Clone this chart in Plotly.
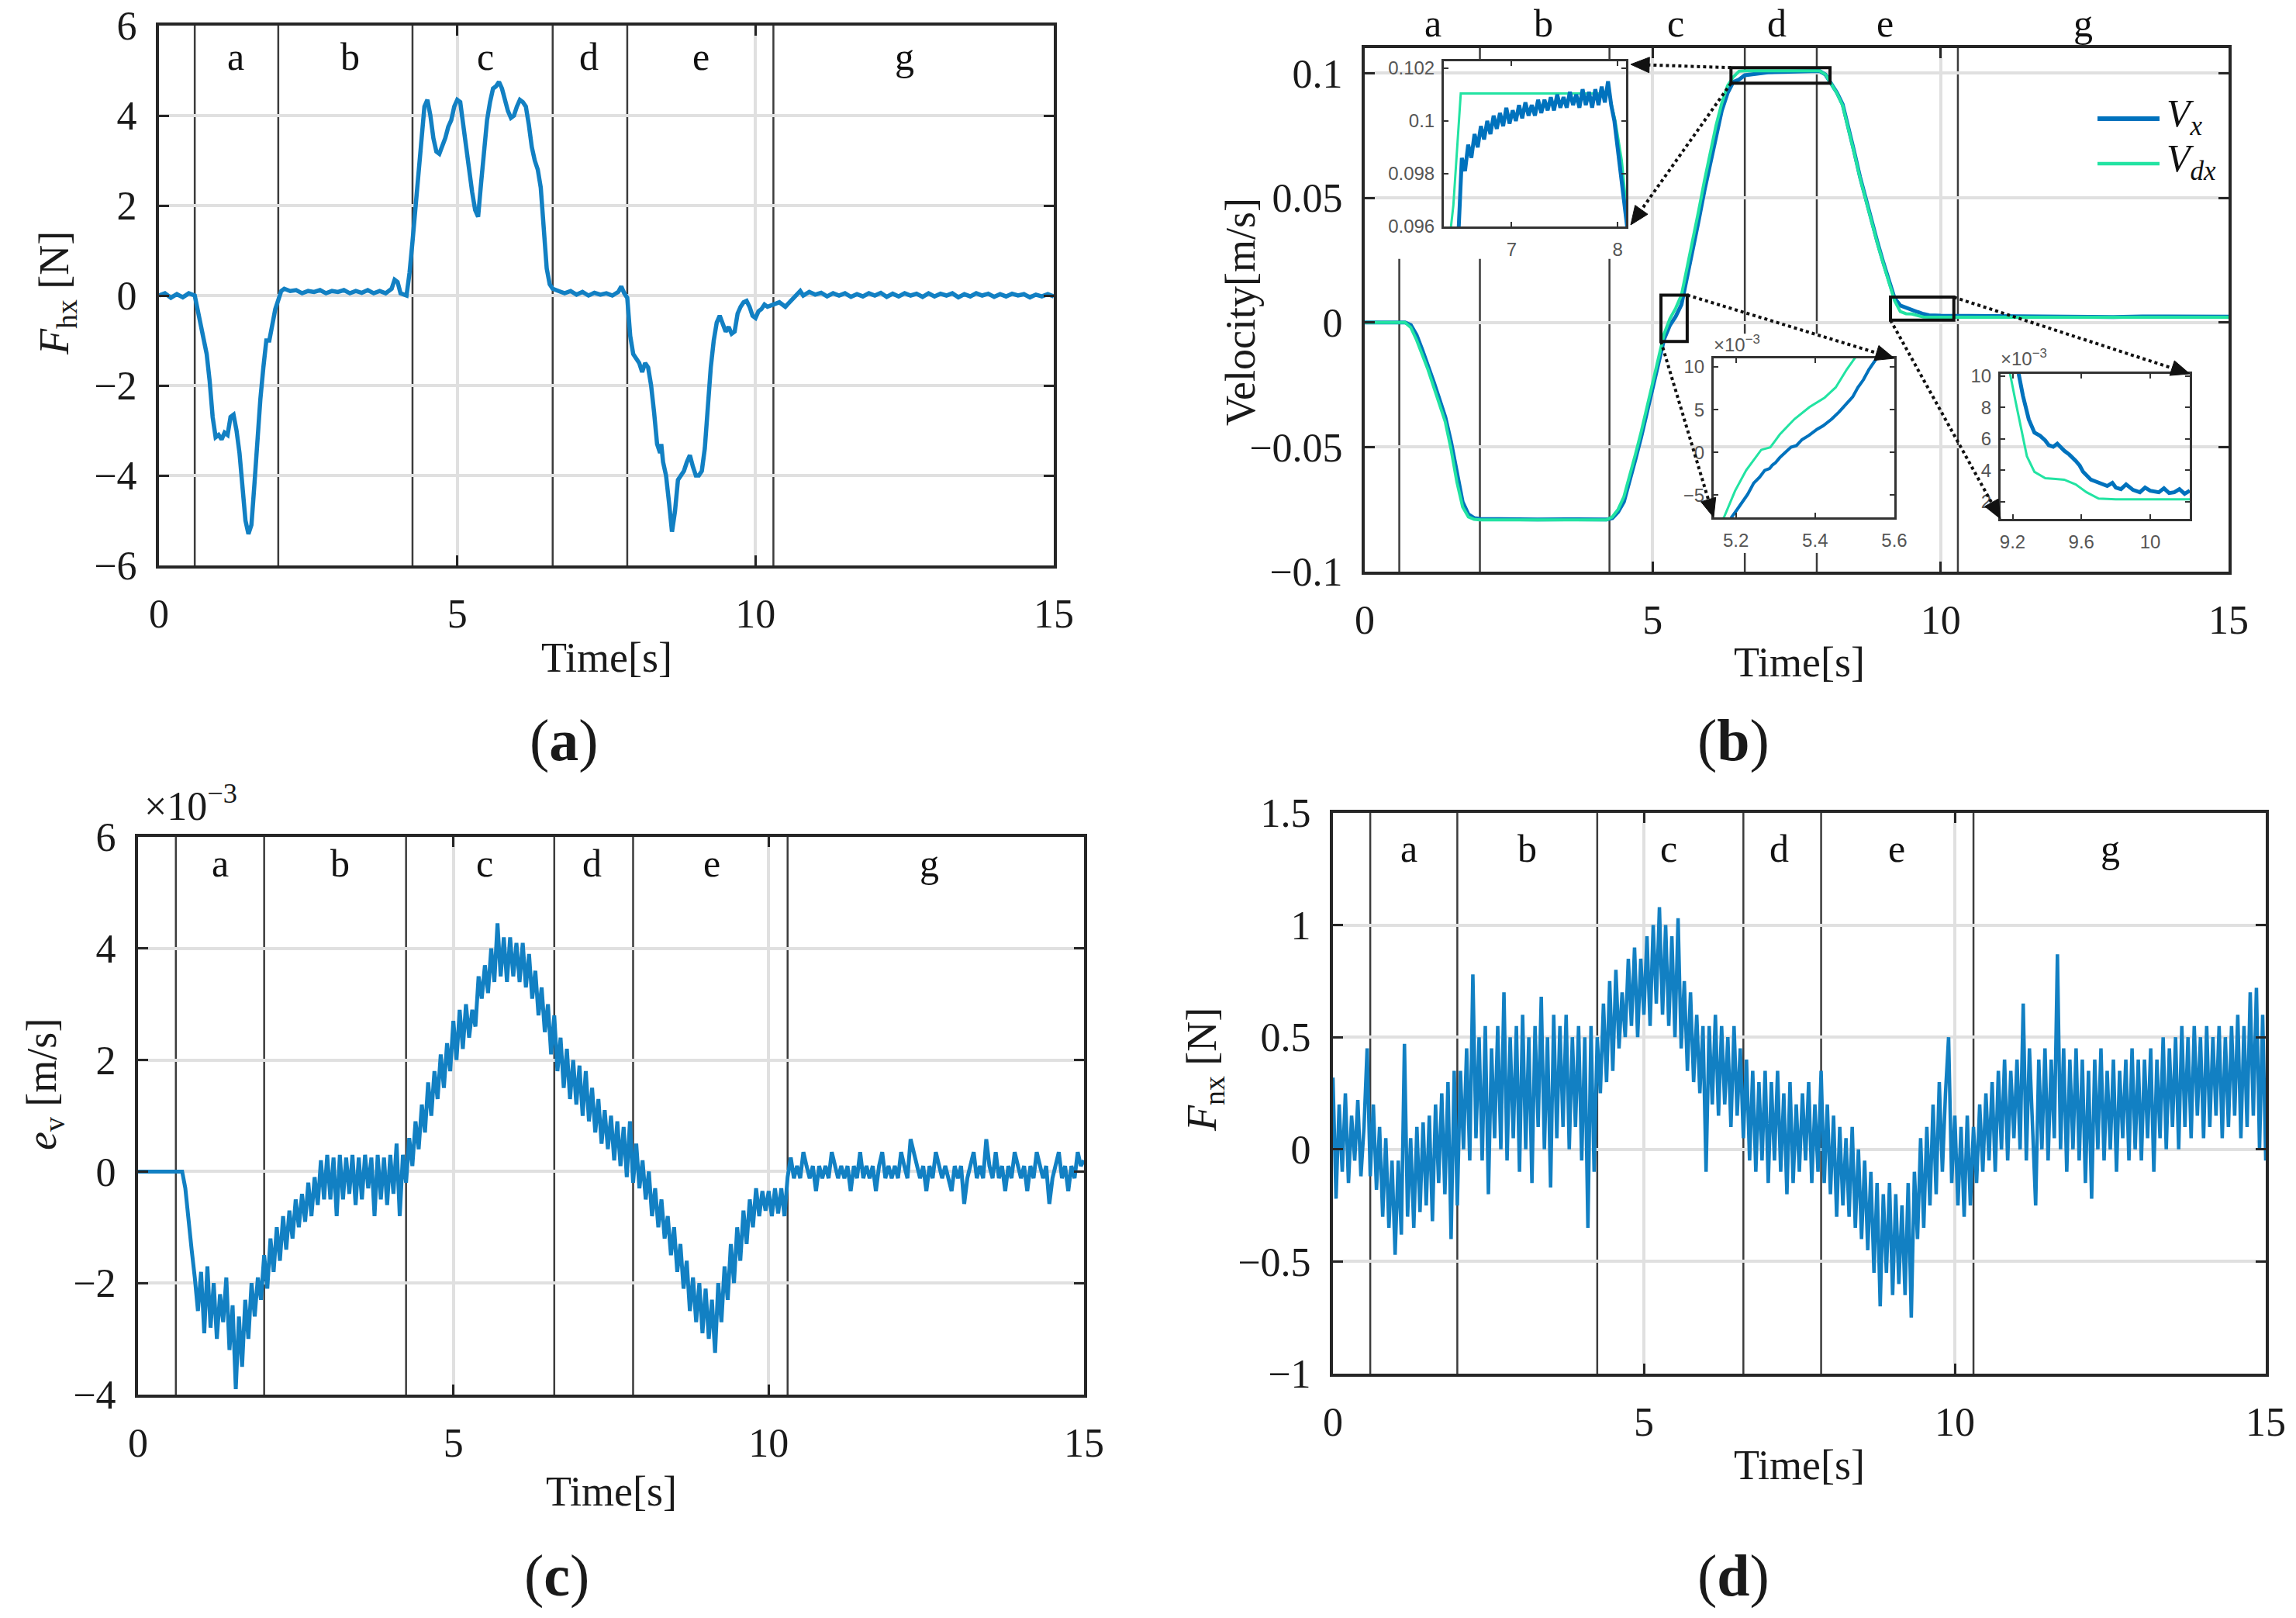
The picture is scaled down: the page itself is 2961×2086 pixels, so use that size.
import plotly.graph_objects as go

W, H = 2961, 2086
BLUE = "#0072BD"
BLUE_L = "#1280C3"
GREEN = "#22E3A2"
AXC = "#262626"

# ---------------- data ----------------
phase_times = [0.6, 2.0, 4.25, 6.6, 7.85, 10.3]
phase_labels = ["a", "b", "c", "d", "e", "g"]
label_t_a = [1.29, 3.2, 5.47, 7.21, 9.08, 12.5]
label_t_b = [1.19, 3.1, 5.4, 7.15, 9.03, 12.48]
label_t_c = [1.3, 3.2, 5.5, 7.2, 9.1, 12.55]
label_t_d = [1.22, 3.12, 5.4, 7.17, 9.07, 12.5]
x_ticks = [0, 5, 10, 15]

# (a) F_hx [N]
t_a = [0.0, 0.1, 0.2, 0.3, 0.4, 0.5, 0.6, 0.65, 0.72, 0.8, 0.85, 0.9, 0.95, 1.0, 1.05, 1.1, 1.15,
       1.2, 1.25, 1.3, 1.35, 1.4, 1.45, 1.5, 1.55, 1.6, 1.65, 1.7, 1.75, 1.8, 1.85, 1.9, 1.95, 2.0,
       2.05, 2.1, 2.2, 2.3, 2.4, 2.5, 2.6, 2.7, 2.8, 2.9, 3.0, 3.1, 3.2, 3.3, 3.4, 3.5, 3.6, 3.7,
       3.8, 3.9, 3.95, 4.0, 4.05, 4.15, 4.2, 4.25, 4.3, 4.35, 4.4, 4.45, 4.5, 4.55, 4.6, 4.65, 4.7,
       4.75, 4.8, 4.85, 4.9, 4.95, 5.0, 5.05, 5.1, 5.15, 5.2, 5.25, 5.3, 5.35, 5.4, 5.45, 5.5, 5.55,
       5.6, 5.65, 5.7, 5.75, 5.8, 5.85, 5.9, 5.95, 6.0, 6.05, 6.1, 6.15, 6.2, 6.25, 6.3, 6.35, 6.4,
       6.45, 6.5, 6.55, 6.6, 6.7, 6.8, 6.9, 7.0, 7.1, 7.2, 7.3, 7.4, 7.5, 7.6, 7.7, 7.75, 7.8, 7.85,
       7.9, 7.95, 8.0, 8.05, 8.1, 8.15, 8.2, 8.25, 8.3, 8.35, 8.4, 8.42, 8.45, 8.5, 8.55, 8.6, 8.65,
       8.7, 8.75, 8.8, 8.85, 8.9, 8.95, 9.0, 9.05, 9.1, 9.15, 9.2, 9.25, 9.3, 9.35, 9.4, 9.45, 9.5,
       9.55, 9.6, 9.65, 9.7, 9.75, 9.8, 9.85, 9.9, 9.95, 10.0, 10.05, 10.1, 10.15, 10.2, 10.3, 10.4,
       10.5, 10.6, 10.7, 10.75, 10.8, 10.9, 11.0, 11.1, 11.2, 11.3, 11.4, 11.5, 11.6, 11.7, 11.8,
       11.9, 12.0, 12.1, 12.2, 12.3, 12.4, 12.5, 12.6, 12.7, 12.8, 12.9, 13.0, 13.1, 13.2, 13.3,
       13.4, 13.5, 13.6, 13.7, 13.8, 13.9, 14.0, 14.1, 14.2, 14.3, 14.4, 14.5, 14.6, 14.7, 14.8,
       14.9, 15.0]
fhx = [0.0, 0.05, -0.05, 0.03, -0.04, 0.05, 0.0, -0.3, -0.8, -1.3, -1.9, -2.7, -3.15, -3.1, -3.2,
       -3.05, -3.1, -2.7, -2.65, -3.0, -3.5, -4.3, -5.0, -5.3, -5.1, -4.2, -3.2, -2.3, -1.6, -1.0,
       -1.0, -0.6, -0.3, -0.1, 0.1, 0.15, 0.1, 0.12, 0.05, 0.1, 0.08, 0.12, 0.05, 0.1, 0.08, 0.12,
       0.05, 0.1, 0.06, 0.12, 0.05, 0.1, 0.05, 0.15, 0.35, 0.3, 0.05, 0.0, 0.5, 1.2, 2.0, 2.7, 3.6,
       4.2, 4.35, 4.0, 3.5, 3.2, 3.15, 3.3, 3.5, 3.75, 3.9, 4.2, 4.35, 4.3, 3.8, 3.2, 2.8, 2.3, 1.9,
       1.75, 2.5, 3.3, 3.9, 4.3, 4.6, 4.65, 4.75, 4.6, 4.3, 4.1, 3.95, 4.0, 4.2, 4.35, 4.3, 4.2,
       3.8, 3.3, 3.0, 2.8, 2.4, 1.6, 0.6, 0.25, 0.15, 0.1, 0.05, 0.1, 0.02, 0.08, 0.0, 0.06, 0.02,
       0.05, 0.0, 0.08, 0.2, 0.05, -0.05, -0.9, -1.3, -1.4, -1.5, -1.7, -1.5, -1.6, -2.0, -2.6,
       -3.3, -3.5, -3.3, -3.7, -4.0, -4.6, -5.25, -4.8, -4.1, -4.0, -3.9, -3.7, -3.55, -3.8, -4.0,
       -4.0, -3.9, -3.4, -2.4, -1.6, -1.0, -0.6, -0.45, -0.6, -0.8, -0.7, -0.85, -0.8, -0.4, -0.25,
       -0.15, -0.12, -0.25, -0.45, -0.5, -0.35, -0.3, -0.2, -0.25, -0.2, -0.15, -0.25, -0.1, 0.05,
       0.1, 0.0, 0.08, 0.02, 0.06, -0.02, 0.05, 0.0, 0.05, -0.03, 0.03, -0.02, 0.05, 0.0, 0.06,
       -0.03, 0.04, -0.02, 0.05, 0.0, 0.04, -0.03, 0.05, -0.02, 0.04, 0.0, 0.05, -0.04, 0.03, -0.02,
       0.05, 0.0, 0.04, -0.03, 0.03, -0.02, 0.04, 0.0, 0.03, -0.04, 0.02, -0.02, 0.03, -0.02]

# (b) velocity [m/s]
t_b = [0.0, 0.5, 0.7, 0.8, 0.9, 1.0, 1.1, 1.2, 1.3, 1.4, 1.5, 1.6, 1.7, 1.8, 1.9, 2.0, 2.5, 3.0,
       3.5, 4.0, 4.2, 4.3, 4.4, 4.5, 4.6, 4.7, 4.8, 4.9, 5.0, 5.1, 5.2, 5.3, 5.4, 5.5, 5.6, 5.7,
       5.8, 5.9, 6.0, 6.1, 6.2, 6.3, 6.4, 6.5, 6.6, 7.0, 7.5, 7.9, 8.0, 8.1, 8.2, 8.3, 8.4, 8.5,
       8.6, 8.7, 8.8, 8.9, 9.0, 9.1, 9.2, 9.3, 9.4, 9.5, 9.6, 9.7, 9.8, 10.0, 10.5, 11.0, 11.5,
       12.0, 12.5, 13.0, 13.5, 14.0, 14.5, 15.0]
vx_b = [0.0, 0.0, 0.0, -0.001, -0.005, -0.011, -0.017, -0.024, -0.031, -0.038, -0.048, -0.061,
        -0.072, -0.077, -0.0785, -0.0788, -0.0790, -0.0791, -0.0790, -0.0791, -0.0791, -0.0785,
        -0.076, -0.072, -0.064, -0.055, -0.046, -0.036, -0.026, -0.017, -0.0066, -0.0011, 0.0024,
        0.0072, 0.018, 0.029, 0.041, 0.053, 0.064, 0.075, 0.085, 0.092, 0.0965, 0.0975, 0.0992,
        0.1004, 0.1007, 0.1009, 0.0995, 0.096, 0.0922, 0.0875, 0.0785, 0.0685, 0.0585, 0.0495,
        0.0405, 0.0325, 0.0245, 0.0165, 0.0098, 0.0068, 0.0058, 0.0052, 0.0042, 0.0034, 0.0029,
        0.0027, 0.0026, 0.0024, 0.0025, 0.0023, 0.0024, 0.0022, 0.0024, 0.0023, 0.0022, 0.0023]
vdx_b = [0.0, 0.0, 0.0, -0.002, -0.007, -0.013, -0.019, -0.026, -0.033, -0.040, -0.051, -0.064,
         -0.074, -0.078, -0.079, -0.0792, -0.0792, -0.0792, -0.0792, -0.0792, -0.0792, -0.078,
         -0.075, -0.070, -0.062, -0.053, -0.044, -0.034, -0.024, -0.015, -0.0045, 0.0015, 0.0057,
         0.011, 0.022, 0.033, 0.045, 0.057, 0.068, 0.079, 0.088, 0.095, 0.0985, 0.1008, 0.101,
         0.101, 0.101, 0.101, 0.0995, 0.096, 0.092, 0.087, 0.078, 0.068, 0.058, 0.049, 0.040,
         0.032, 0.024, 0.016, 0.0088, 0.0044, 0.0035, 0.0034, 0.0029, 0.0022, 0.0021, 0.0021,
         0.0021, 0.0021, 0.0021, 0.0021, 0.0021, 0.0021, 0.0021, 0.0021, 0.0021, 0.0021]

# inset 1 (top plateau) [m/s]
t_in1_vx = [6.49, 6.50, 6.53, 6.56, 6.59, 6.62, 6.65, 6.68, 6.71, 6.74, 6.77, 6.80, 6.83, 6.86,
            6.89, 6.92, 6.95, 6.98, 7.01, 7.04, 7.07, 7.10, 7.13, 7.16, 7.19, 7.22, 7.25, 7.28,
            7.31, 7.34, 7.37, 7.40, 7.43, 7.46, 7.49, 7.52, 7.55, 7.58, 7.61, 7.64, 7.67, 7.70,
            7.73, 7.76, 7.79, 7.82, 7.85, 7.88, 7.91, 7.94, 7.97, 8.00, 8.03, 8.06, 8.09]
vx_in1 = [0.0950, 0.0958, 0.0986, 0.0981, 0.0991, 0.0986, 0.0995, 0.0990, 0.0998, 0.0993, 0.1000,
          0.0995, 0.1002, 0.0997, 0.1003, 0.0998, 0.1005, 0.0999, 0.1004, 0.1000, 0.1006, 0.1001,
          0.1007, 0.1002, 0.1006, 0.1002, 0.1008, 0.1003, 0.1008, 0.1004, 0.1009, 0.1004, 0.1010,
          0.1005, 0.1009, 0.1005, 0.1011, 0.1006, 0.1010, 0.1005, 0.1012, 0.1006, 0.1011, 0.1005,
          0.1012, 0.1006, 0.1013, 0.1007, 0.1015, 0.1006, 0.1000, 0.0990, 0.0980, 0.0970, 0.0960]
t_in1_vdx = [6.40, 6.45, 6.52, 7.92, 7.98, 8.04, 8.09]
vdx_in1 = [0.0950, 0.0968, 0.10104, 0.10104, 0.1000, 0.0985, 0.0965]

# inset 2 (zero crossing) [x1e-3 m/s]
t_in2_vdx = [5.15, 5.17, 5.198, 5.226, 5.264, 5.278, 5.287, 5.311, 5.348, 5.386, 5.424, 5.452,
             5.48, 5.5, 5.52]
vdx_in2 = [-8.5, -7.6, -4.5, -2.1, 0.3, 0.45, 0.6, 2.1, 3.9, 5.3, 6.4, 7.6, 9.7, 11.0, 12.0]
t_in2_vx = [5.18, 5.189, 5.2, 5.217, 5.23, 5.245, 5.26, 5.273, 5.285, 5.292, 5.3, 5.311, 5.325,
            5.339, 5.353, 5.367, 5.385, 5.405, 5.42, 5.442, 5.46, 5.48, 5.495, 5.508, 5.522,
            5.536, 5.555, 5.57]
vx_in2 = [-8.5, -7.6, -6.9, -5.8, -4.9, -3.6, -2.9, -2.1, -1.9, -1.5, -1.2, -0.6, 0.0, 0.6, 0.8,
          1.5, 2.0, 2.7, 3.1, 3.9, 4.7, 5.8, 6.5, 7.6, 8.5, 9.7, 11.0, 12.0]

# inset 3 (settling) [x1e-3 m/s]
t_in3_vdx = [9.17, 9.185, 9.217, 9.25, 9.283, 9.327, 9.39, 9.45, 9.5, 9.567, 9.63, 9.7, 9.8,
             10.0, 10.23]
vdx_in3 = [11.5, 10.17, 8.4, 6.6, 4.9, 3.9, 3.5, 3.45, 3.4, 3.1, 2.6, 2.2, 2.15, 2.15, 2.15]
t_in3_vx = [9.22, 9.235, 9.26, 9.294, 9.327, 9.36, 9.39, 9.41, 9.436, 9.46, 9.5, 9.53, 9.567,
            9.59, 9.61, 9.635, 9.655, 9.68, 9.72, 9.75, 9.78, 9.8, 9.83, 9.86, 9.9, 9.94, 9.97,
            10.0, 10.05, 10.08, 10.11, 10.14, 10.17, 10.2, 10.23]
vx_in3 = [11.5, 10.17, 8.75, 7.25, 6.4, 6.2, 5.9, 5.6, 5.5, 5.7, 5.25, 5.0, 4.6, 4.3, 3.9, 3.6,
          3.4, 3.3, 3.1, 3.0, 3.2, 2.9, 2.8, 3.1, 2.75, 2.6, 2.9, 2.7, 2.6, 2.85, 2.55, 2.6, 2.8,
          2.5, 2.7]

# (c) e_v [x1e-3 m/s], sampled every 0.05 s
dt_cd = 0.05
ev = [
    0, 0, 0, 0, 0, 0, 0, 0, 0, 0, 0, 0, 0, 0, 0, -0.3, -0.9, -1.4, -1.9, -2.5,
    -1.8, -2.9, -1.7, -2.8, -2.0, -3.0, -2.2, -2.7, -1.9, -3.2, -2.4, -3.9, -2.6, -3.5, -2.3, -3.0, -2.0, -2.6, -1.9, -2.3,
    -1.5, -2.1, -1.2, -1.8, -1.0, -1.6, -0.8, -1.4, -0.7, -1.2, -0.5, -1.0, -0.4, -0.9, -0.2, -0.8, -0.1, -0.6, 0.2, -0.5,
    0.3, -0.5, 0.25, -0.8, 0.3, -0.5, 0.25, -0.4, 0.3, -0.6, 0.25, -0.5, 0.3, -0.3, 0.25, -0.8, 0.3, -0.5, 0.25, -0.6,
    0.3, -0.4, 0.5, -0.8, 0.3, -0.2, 0.6, 0.1, 0.9, 0.4, 1.2, 0.7, 1.6, 1.0, 1.8, 1.3, 2.1, 1.5, 2.3, 1.8,
    2.7, 2.0, 2.9, 2.2, 3.0, 2.4, 2.9, 2.6, 3.5, 3.1, 3.7, 3.2, 4.0, 3.4, 4.45, 3.5, 4.2, 3.4, 4.2, 3.5,
    4.1, 3.4, 4.1, 3.3, 3.9, 3.1, 3.6, 2.8, 3.3, 2.5, 3.0, 2.1, 2.8, 1.8, 2.4, 1.5, 2.2, 1.3, 2.0, 1.2,
    1.9, 1.0, 1.8, 0.9, 1.5, 0.7, 1.3, 0.5, 1.1, 0.4, 1.0, 0.2, 0.9, 0.1, 0.8, -0.1, 0.9, -0.2, 0.5, -0.3,
    0.2, -0.5, 0.0, -0.8, -0.3, -1.0, -0.5, -1.2, -0.8, -1.5, -1.0, -1.8, -1.3, -2.1, -1.6, -2.5, -1.9, -2.7, -2.0, -2.9,
    -2.1, -3.0, -2.3, -3.25, -2.0, -2.7, -1.7, -2.3, -1.3, -2.0, -1.0, -1.6, -0.7, -1.3, -0.5, -1.0, -0.3, -0.8, -0.35, -0.7,
    -0.35, -0.8, -0.3, -0.75, -0.3, -0.8, -0.1, 0.25, -0.12, 0.1, -0.12, 0.35, 0.1, -0.12, 0.1, -0.35, 0.1, -0.12, 0.1, -0.12,
    0.35, 0.1, -0.12, 0.1, -0.12, 0.1, -0.35, 0.1, -0.12, 0.35, -0.12, 0.1, -0.12, 0.1, -0.35, 0.1, 0.35, -0.12, 0.1, -0.12,
    0.1, -0.12, 0.35, 0.1, -0.12, 0.58, 0.35, 0.1, -0.12, 0.1, -0.35, 0.1, -0.12, 0.35, 0.1, -0.12, 0.1, -0.12, -0.35, 0.1,
    -0.12, 0.1, -0.58, -0.12, 0.1, 0.35, -0.12, 0.1, -0.12, 0.58, 0.1, -0.12, 0.35, -0.12, 0.1, -0.35, 0.1, -0.12, 0.35, 0.1,
    -0.12, 0.1, -0.35, 0.1, -0.12, 0.35, 0.1, -0.12, 0.1, -0.58, -0.12, 0.1, 0.35, -0.12, 0.1, -0.35, 0.1, -0.12, 0.35, 0.1,
    0.2]

# (d) F_nx [N], sampled every 0.05 s
fnx = [
    0.32, -0.22, 0.20, -0.10, 0.25, -0.15, 0.15, -0.05, 0.22, -0.12, 0.10, 0.45, -0.12, 0.20, -0.18, 0.10, -0.30, 0.05, -0.35, -0.05,
    -0.47, -0.05, -0.38, 0.47, -0.30, 0.05, -0.35, 0.10, -0.28, 0.12, -0.25, 0.15, -0.32, 0.20, -0.15, 0.25, -0.20, 0.30, -0.40, 0.35,
    -0.25, 0.35, 0.0, 0.45, -0.05, 0.78, 0.05, 0.50, -0.05, 0.55, -0.20, 0.45, 0.05, 0.55, 0.0, 0.70, -0.05, 0.50, 0.05, 0.55,
    -0.10, 0.60, 0.0, 0.50, -0.15, 0.55, 0.10, 0.68, 0.0, 0.50, -0.17, 0.60, 0.05, 0.55, 0.10, 0.60, 0.0, 0.50, 0.10, 0.55,
    -0.05, 0.50, -0.35, 0.55, -0.10, 0.50, 0.25, 0.65, 0.30, 0.75, 0.35, 0.80, 0.45, 0.70, 0.50, 0.85, 0.55, 0.90, 0.50, 0.85,
    0.60, 0.95, 0.55, 1.00, 0.65, 1.08, 0.60, 1.00, 0.55, 0.95, 0.50, 1.03, 0.45, 0.75, 0.35, 0.70, 0.30, 0.60, 0.25, 0.55,
    -0.10, 0.55, 0.20, 0.60, 0.15, 0.55, 0.20, 0.50, 0.10, 0.55, 0.15, 0.45, 0.05, 0.40, -0.05, 0.35, -0.10, 0.30, -0.05, 0.35,
    -0.15, 0.30, -0.05, 0.35, -0.10, 0.25, -0.20, 0.30, -0.15, 0.20, -0.10, 0.25, -0.05, 0.30, -0.15, 0.20, -0.10, 0.35, -0.15, 0.20,
    -0.20, 0.15, -0.30, 0.10, -0.25, 0.05, -0.30, 0.10, -0.35, 0.0, -0.40, -0.05, -0.45, -0.10, -0.55, -0.15, -0.70, -0.20, -0.55, -0.15,
    -0.65, -0.20, -0.60, -0.25, -0.65, -0.15, -0.75, -0.10, -0.40, 0.05, -0.35, 0.10, -0.25, 0.20, -0.20, 0.30, -0.10, 0.25, 0.50, -0.15,
    0.15, -0.25, 0.10, -0.30, 0.15, -0.25, 0.10, -0.15, 0.20, -0.10, 0.25, -0.05, 0.30, -0.10, 0.35, 0.0, 0.40, -0.05, 0.35, 0.05,
    0.40, 0.0, 0.65, -0.05, 0.45, 0.05, -0.25, 0.40, 0.0, 0.45, -0.05, 0.40, 0.05, 0.87, 0.0, 0.45, -0.10, 0.40, 0.0, 0.45,
    -0.05, 0.40, -0.15, 0.35, -0.22, 0.40, 0.0, 0.45, -0.05, 0.35, 0.0, 0.40, -0.10, 0.35, 0.05, 0.40, -0.05, 0.45, 0.0, 0.40,
    -0.05, 0.40, 0.05, 0.45, -0.10, 0.40, 0.05, 0.50, 0.0, 0.45, 0.10, 0.50, 0.0, 0.55, 0.10, 0.50, 0.05, 0.55, 0.15, 0.50,
    0.05, 0.55, 0.10, 0.50, 0.15, 0.55, 0.05, 0.50, 0.10, 0.55, 0.15, 0.60, 0.05, 0.55, 0.10, 0.70, 0.15, 0.72, 0.00, 0.60,
    -0.05]

t_c = [round(i * dt_cd, 2) for i in range(len(ev))]
t_d = [round(i * dt_cd, 2) for i in range(len(fnx))]

# ---------------- layout helpers ----------------
def xd(l, r):
    return [l / W, r / W]

def yd(t, b):
    return [1 - b / H, 1 - t / H]

def px(xp):
    return xp / W

def py(yp):
    return 1 - yp / H

SERIF = "Liberation Serif"
SANS = "Liberation Sans"

def main_x(domain, anchor):
    return dict(domain=domain, range=[0, 15], tickvals=x_ticks, anchor=anchor, automargin=False,
                ticks="inside", ticklen=13, tickwidth=3, tickcolor=AXC,
                showline=True, linewidth=4, linecolor=AXC, mirror="ticks",
                showgrid=True, gridcolor="#e0e0e0", gridwidth=4, zeroline=False,
                tickfont=dict(family=SERIF, size=52, color="#1a1a1a"),
                ticklabelstandoff=14)

def main_y(domain, rng, tickvals, anchor):
    return dict(domain=domain, range=rng, tickvals=tickvals, anchor=anchor, automargin=False,
                ticks="inside", ticklen=13, tickwidth=3, tickcolor=AXC,
                showline=True, linewidth=4, linecolor=AXC, mirror="ticks",
                showgrid=True, gridcolor="#e0e0e0", gridwidth=4, zeroline=False,
                tickfont=dict(family=SERIF, size=52, color="#1a1a1a"),
                ticklabelstandoff=14)

def inset_x(domain, rng, tickvals, ticktext, anchor):
    return dict(domain=domain, range=rng, tickvals=tickvals, ticktext=ticktext, anchor=anchor,
                automargin=False, ticks="inside", ticklen=6, tickwidth=2, tickcolor="#333",
                showline=True, linewidth=3, linecolor="#333", mirror="ticks",
                showgrid=False, zeroline=False,
                tickfont=dict(family=SANS, size=24, color="#555"), ticklabelstandoff=6)

def inset_y(domain, rng, tickvals, ticktext, anchor):
    return dict(domain=domain, range=rng, tickvals=tickvals, ticktext=ticktext, anchor=anchor,
                automargin=False, ticks="inside", ticklen=6, tickwidth=2, tickcolor="#333",
                showline=True, linewidth=3, linecolor="#333", mirror="ticks",
                showgrid=False, zeroline=False,
                tickfont=dict(family=SANS, size=24, color="#555"), ticklabelstandoff=4)

A_X, A_Y = xd(205, 1359), yd(33, 729)
B_X, B_Y = xd(1760, 2874), yd(62, 737)
C_X, C_Y = xd(178, 1398), yd(1079, 1798)
D_X, D_Y = xd(1719, 2922), yd(1048, 1771)
B_RNG = [-0.1, 0.1101]

IN1_X, IN1_Y = xd(1862, 2097), yd(79, 292)
IN2_X, IN2_Y = xd(2210, 2443), yd(462, 667)
IN3_X, IN3_Y = xd(2580, 2824), yd(482, 669)
IN1_XR, IN1_YR = [6.36, 8.08], [0.096, 0.10226]
IN2_XR, IN2_YR = [5.144, 5.6], [-7.6, 11.0]
IN3_XR, IN3_YR = [9.13, 10.23], [0.9, 10.15]

fig = go.Figure()

def line_trace(x, y, xa, ya, color, width):
    fig.add_trace(go.Scatter(x=x, y=y, mode="lines", xaxis=xa, yaxis=ya,
                             line=dict(color=color, width=width), showlegend=False,
                             hoverinfo="skip"))

line_trace(t_a, fhx, "x", "y", BLUE_L, 5.5)
line_trace(t_b, vx_b, "x2", "y2", BLUE, 5)
line_trace(t_b, vdx_b, "x2", "y2", GREEN, 4)
line_trace(t_c, ev, "x3", "y3", BLUE_L, 5)
line_trace(t_d, fnx, "x4", "y4", BLUE_L, 4.5)
line_trace(t_in1_vdx, vdx_in1, "x5", "y5", GREEN, 3)
line_trace(t_in1_vx, vx_in1, "x5", "y5", BLUE, 5)
line_trace(t_in2_vdx, vdx_in2, "x6", "y6", GREEN, 3)
line_trace(t_in2_vx, vx_in2, "x6", "y6", BLUE, 4)
line_trace(t_in3_vdx, vdx_in3, "x7", "y7", GREEN, 3)
line_trace(t_in3_vx, vx_in3, "x7", "y7", BLUE, 5)

layout = dict(
    template="none",
    width=W, height=H, margin=dict(l=0, r=0, t=0, b=0, pad=0, autoexpand=False), autosize=False,
    paper_bgcolor="white", plot_bgcolor="rgba(0,0,0,0)", showlegend=False,
    xaxis=main_x(A_X, "y"), yaxis=main_y(A_Y, [-6, 6], [-6, -4, -2, 0, 2, 4, 6], "x"),
    xaxis2=main_x(B_X, "y2"), yaxis2=main_y(B_Y, B_RNG, [-0.1, -0.05, 0, 0.05, 0.1], "x2"),
    xaxis3=main_x(C_X, "y3"), yaxis3=main_y(C_Y, [-4, 6], [-4, -2, 0, 2, 4, 6], "x3"),
    xaxis4=main_x(D_X, "y4"), yaxis4=main_y(D_Y, [-1, 1.5], [-1, -0.5, 0, 0.5, 1, 1.5], "x4"),
    xaxis5=inset_x(IN1_X, IN1_XR, [7, 8], ["7", "8"], "y5"),
    yaxis5=inset_y(IN1_Y, IN1_YR, [0.096, 0.098, 0.1, 0.102], ["0.096", "0.098", "0.1", "0.102"], "x5"),
    xaxis6=inset_x(IN2_X, IN2_XR, [5.2, 5.4, 5.6], ["5.2", "5.4", "5.6"], "y6"),
    yaxis6=inset_y(IN2_Y, IN2_YR, [-5, 0, 5, 10], ["\u22125", "0", "5", "10"], "x6"),
    xaxis7=inset_x(IN3_X, IN3_XR, [9.2, 9.6, 10.0], ["9.2", "9.6", "10"], "y7"),
    yaxis7=inset_y(IN3_Y, IN3_YR, [2, 4, 6, 8, 10], ["2", "4", "6", "8", "10"], "x7"),
)
fig.update_layout(**layout)

shapes = []
annotations = []

PHASE_LINE = dict(color="#3c3c3c", width=2.5)

# phase lines for panels a, c, d (full height)
for xa, ya in [("x", "y"), ("x3", "y3"), ("x4", "y4")]:
    for tp in phase_times:
        shapes.append(dict(type="line", xref=xa, yref=ya + " domain", x0=tp, x1=tp, y0=0, y1=1,
                           line=PHASE_LINE, layer="below"))

# phase lines for panel b (segments avoiding insets)
b_segments = {0.6: [(-0.1, 0.0255)], 2.0: [(-0.1, 0.0255), (0.1048, 0.1101)],
              4.25: [(-0.1, 0.0255), (0.1048, 0.1101)],
              6.6: [(-0.1, -0.0925), (-0.0045, 0.1101)], 7.85: [(-0.1, -0.0925), (-0.0045, 0.1101)],
              10.3: [(-0.1, 0.1101)]}
for tp, segs in b_segments.items():
    for (v0, v1) in segs:
        shapes.append(dict(type="line", xref="x2", yref="y2", x0=tp, x1=tp, y0=v0, y1=v1,
                           line=PHASE_LINE, layer="below"))

# phase letters
def add_letters(xa, tlist, ypix):
    for lab, tt in zip(phase_labels, tlist):
        annotations.append(dict(text=lab, x=tt, xref=xa, y=py(ypix), yref="paper",
                                showarrow=False, xanchor="center", yanchor="middle",
                                font=dict(family=SERIF, size=50, color="#111")))

add_letters("x", label_t_a, 73)
add_letters("x2", label_t_b, 30)
add_letters("x3", label_t_c, 1113)
add_letters("x4", label_t_d, 1094)

# zoom boxes in panel b
def b2p(t, v):
    xp = B_X[0] + (t - 0) / 15 * (B_X[1] - B_X[0])
    yp = B_Y[0] + (v - B_RNG[0]) / (B_RNG[1] - B_RNG[0]) * (B_Y[1] - B_Y[0])
    return xp, yp

box_ranges = [(IN1_XR, IN1_YR, 1.0), (IN2_XR, IN2_YR, 1e-3), (IN3_XR, IN3_YR, 1e-3)]
for xr, yr, s in box_ranges:
    shapes.append(dict(type="rect", xref="x2", yref="y2", x0=xr[0], x1=xr[1], y0=yr[0] * s,
                       y1=yr[1] * s, line=dict(color="#111", width=4), layer="above"))

# dotted connectors: (tail in b-data coords) -> (head in pixel coords)
connectors = [
    ((IN1_XR[0], IN1_YR[1]), (2103, 83)),
    ((IN1_XR[0], IN1_YR[0]), (2103, 290)),
    ((IN2_XR[1], IN2_YR[1] * 1e-3), (2443, 462)),
    ((IN2_XR[0], IN2_YR[0] * 1e-3), (2210, 667)),
    ((IN3_XR[1], IN3_YR[1] * 1e-3), (2824, 482)),
    ((IN3_XR[0], IN3_YR[0] * 1e-3), (2580, 669)),
]
HEAD_L, HEAD_W = 24, 10
for (tt, vv), (hx, hy) in connectors:
    x0, y0 = b2p(tt, vv)
    tx, ty = x0 * W, (1 - y0) * H
    ux, uy = tx - hx, ty - hy
    n = (ux ** 2 + uy ** 2) ** 0.5
    ux, uy = ux / n, uy / n
    bx, by = hx + ux * HEAD_L, hy + uy * HEAD_L
    shapes.append(dict(type="line", xref="paper", yref="paper", x0=x0, y0=y0,
                       x1=px(bx), y1=py(by),
                       line=dict(color="#111", width=4, dash="dot"), layer="above"))
    p1 = (bx - uy * HEAD_W, by + ux * HEAD_W)
    p2 = (bx + uy * HEAD_W, by - ux * HEAD_W)
    path = "M {:.6f} {:.6f} L {:.6f} {:.6f} L {:.6f} {:.6f} Z".format(
        px(hx), py(hy), px(p1[0]), py(p1[1]), px(p2[0]), py(p2[1]))
    shapes.append(dict(type="path", xref="paper", yref="paper", path=path,
                       fillcolor="#111", line=dict(color="#111", width=1), layer="above"))

# legend for panel b
shapes.append(dict(type="line", xref="paper", yref="paper", x0=px(2705), x1=px(2785),
                   y0=py(153), y1=py(153), line=dict(color=BLUE, width=6), layer="above"))
shapes.append(dict(type="line", xref="paper", yref="paper", x0=px(2705), x1=px(2785),
                   y0=py(211), y1=py(211), line=dict(color=GREEN, width=4.5), layer="above"))
annotations.append(dict(text="<i>V</i><sub><i>x</i></sub>", x=px(2792), y=py(150), xref="paper",
                        yref="paper", showarrow=False, xanchor="left", yanchor="middle",
                        font=dict(family=SERIF, size=50, color="#111")))
annotations.append(dict(text="<i>V</i><sub><i>dx</i></sub>", x=px(2792), y=py(208), xref="paper",
                        yref="paper", showarrow=False, xanchor="left", yanchor="middle",
                        font=dict(family=SERIF, size=50, color="#111")))

# exponent labels
annotations.append(dict(text="\u00d710<sup>\u22123</sup>", x=px(184), y=py(1070), xref="paper",
                        yref="paper", showarrow=False, xanchor="left", yanchor="bottom",
                        font=dict(family=SERIF, size=52, color="#1a1a1a")))
for lx, by in [(2208, 460), (2578, 478)]:
    annotations.append(dict(text="\u00d710<sup>\u22123</sup>", x=px(lx), y=py(by), xref="paper",
                            yref="paper", showarrow=False, xanchor="left", yanchor="bottom",
                            font=dict(family=SANS, size=24, color="#555")))

# axis titles
def title(text, xpix, ypix, angle=0, size=54):
    annotations.append(dict(text=text, x=px(xpix), y=py(ypix), xref="paper", yref="paper",
                            showarrow=False, xanchor="center", yanchor="middle", textangle=angle,
                            font=dict(family=SERIF, size=size, color="#1a1a1a")))

title("<i>F</i><sub>hx</sub> [N]", 74, 378, -90)
title("Time[s]", 782, 848)
title("Velocity[m/s]", 1600, 402, -90)
title("Time[s]", 2320, 854)
title("<i>e</i><sub>v</sub> [m/s]", 57, 1398, -90)
title("Time[s]", 788, 1923)
title("<i>F</i><sub>nx</sub> [N]", 1553, 1379, -90)
title("Time[s]", 2320, 1889)

# panel labels
title("(<b>a</b>)", 727, 954, 0, 76)
title("(<b>b</b>)", 2235, 954, 0, 76)
title("(<b>c</b>)", 718, 2031, 0, 76)
title("(<b>d</b>)", 2235, 2031, 0, 76)

fig.update_layout(shapes=shapes, annotations=annotations)
fig.write_html("out.html", config={"displayModeBar": False},
               post_script="document.body.style.margin='0';document.body.style.overflow='hidden';")
